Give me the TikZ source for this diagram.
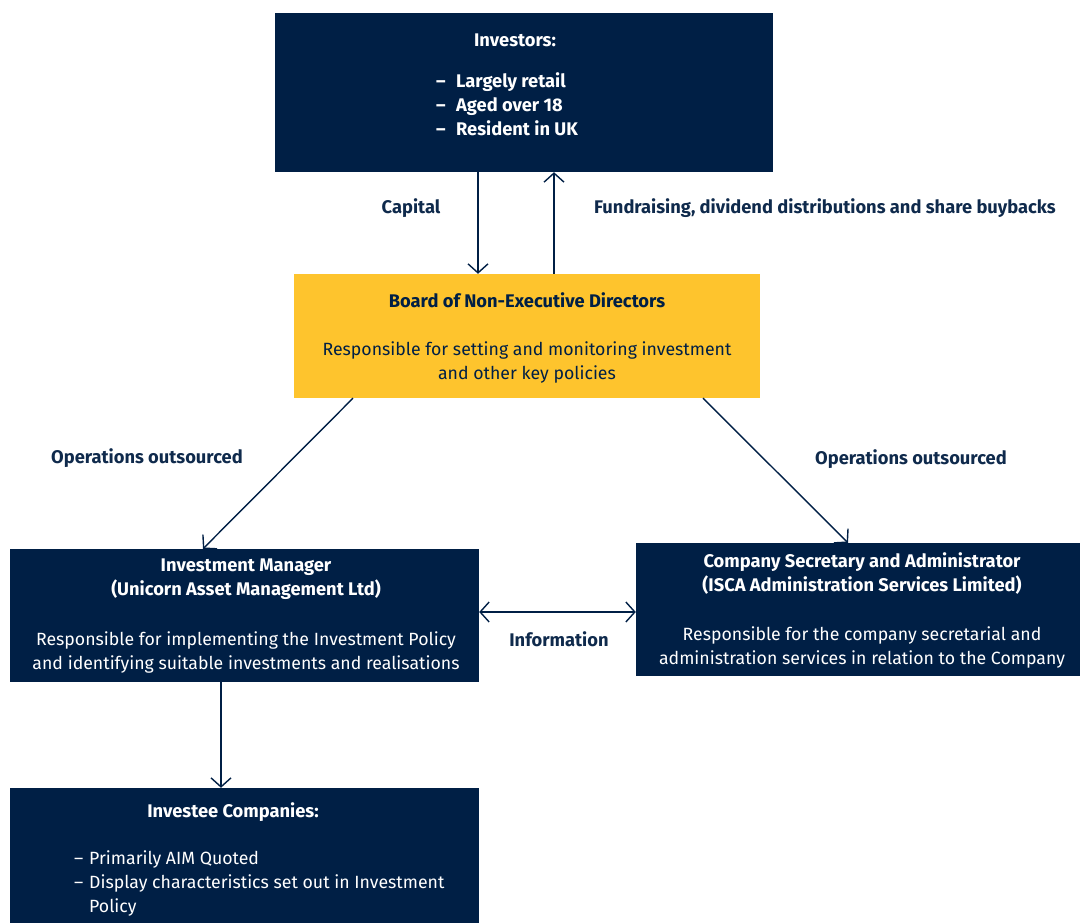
\documentclass[tikz,border=0pt]{standalone}
\usepackage{fontspec}
\setmainfont{Fira Sans}
\usetikzlibrary{arrows.meta}
\definecolor{navy}{HTML}{001F45}
\definecolor{gold}{HTML}{FEC42D}
\definecolor{labelc}{HTML}{0F2A4C}
\newcommand{\regf}{\fontsize{17.7}{24}\selectfont}
\newcommand{\bldf}{\fontsize{18.3}{24}\selectfont\bfseries}
\tikzset{
  darkbox/.style={fill=navy, draw=none, inner sep=0},
  goldbox/.style={fill=gold, draw=none, inner sep=0},
  wtxt/.style={text=white, inner sep=0, align=center},
  wlist/.style={text=white, inner sep=0, align=left},
  ntxt/.style={text=navy, inner sep=0, align=center},
  lbl/.style={text=labelc, inner sep=0, font=\bldf},
  arr/.style={draw=navy, line width=1.4pt, -{Straight Barb[length=9pt,width=20pt,line width=1.4pt]}},
  darr/.style={draw=navy, line width=1.4pt, {Straight Barb[length=9pt,width=20pt,line width=1.4pt]}-{Straight Barb[length=9pt,width=20pt,line width=1.4pt]}},
}
\begin{document}
\begin{tikzpicture}[x=1pt,y=-1pt, font=\regf]
\useasboundingbox (0,0) rectangle (1080,923);
% boxes
\node[darkbox, minimum width=498pt, minimum height=159pt] (inv) at (524,92.5) {};
\node[goldbox, minimum width=466pt, minimum height=124pt] (board) at (527,336) {};
\node[darkbox, minimum width=469pt, minimum height=133pt] (im) at (244.5,615.5) {};
\node[darkbox, minimum width=444pt, minimum height=133pt] (cs) at (858,609.5) {};
\node[darkbox, minimum width=469pt, minimum height=136pt] (ic) at (244.5,856) {};
% texts
\node[wtxt, font=\bldf] (invh) at (515,40) {Investors:};
\node[wlist, anchor=west, font=\bldf] (invl) at (436,104) {\makebox[20pt][l]{–}Largely retail\\\makebox[20pt][l]{–}Aged over 18\\\makebox[20pt][l]{–}Resident in UK};
\node[ntxt, font=\bldf] (boardh) at (527,300) {Board of Non-Executive Directors};
\node[ntxt] (boardt) at (527,362) {Responsible for setting and monitoring investment\\and other key policies};
\node[wtxt, font=\bldf] (imh) at (246,579) {Investment Manager\\(Unicorn Asset Management Ltd)};
\node[wtxt] (imt) at (246,652) {Responsible for implementing the Investment Policy\\and identifying suitable investments and realisations};
\node[wtxt, font=\bldf] (csh) at (862,574) {Company Secretary and Administrator\\(ISCA Administration Services Limited)};
\node[wtxt] (cst) at (862,647) {Responsible for the company secretarial and\\administration services in relation to the Company};
\node[wtxt, font=\bldf] (ich) at (233,812) {Investee Companies:};
\node[wlist, anchor=west] (icl) at (74,883) {\makebox[15pt][l]{–}Primarily AIM Quoted\\\makebox[15pt][l]{–}Display characteristics set out in Investment\\\hspace*{15pt}Policy};
% connectors
\draw[arr] (inv.south -| 478,0) -- (board.north -| 478,0);
\draw[arr] (board.north -| 554,0) -- (inv.south -| 554,0);
\draw[arr] (board.south -| 353,0) -- (im.north -| 203,0);
\draw[arr] (board.south -| 703,0) -- (cs.north -| 848,0);
\draw[darr] (im.east |- 0,612) -- (cs.west |- 0,612);
\draw[arr] (im.south -| 221,0) -- (ic.north -| 221,0);
% labels
\node[lbl] (lcap) at (411,208) {Capital};
\node[lbl, anchor=west] (lfund) at (594,208) {Fundraising, dividend distributions and share buybacks};
\node[lbl, anchor=west] (lops1) at (51,458) {Operations outsourced};
\node[lbl, anchor=west] (lops2) at (815,459) {Operations outsourced};
\node[lbl] (linfo) at (559,639) {Information};
\end{tikzpicture}
\end{document}
